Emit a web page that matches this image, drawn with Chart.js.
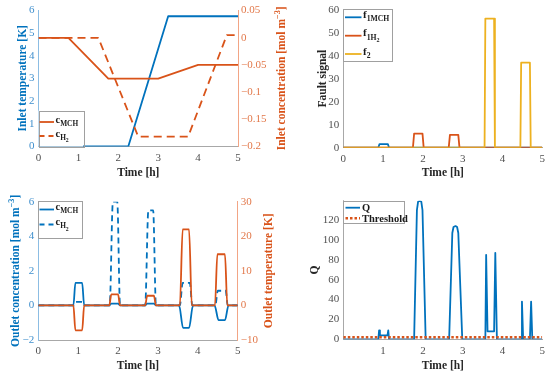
<!DOCTYPE html>
<html><head><meta charset="utf-8">
<script src="https://cdn.jsdelivr.net/npm/chart.js@4"></script>
<style>
html,body{margin:0;padding:0;background:#fff;}
body{width:550px;height:375px;position:relative;overflow:hidden;}
canvas{position:absolute;}
</style></head><body>
<canvas id="c1" width="295" height="185" style="left:0;top:0"></canvas>
<canvas id="c2" width="255" height="185" style="left:295px;top:0"></canvas>
<canvas id="c3" width="295" height="190" style="left:0;top:185px"></canvas>
<canvas id="c4" width="255" height="190" style="left:295px;top:185px"></canvas>
<script>
// ---------------- data ----------------
const timeTicks = [0, 1, 2, 3, 4, 5];
const timeTicksQ = [1, 2, 3, 4, 5];

// Panel 1: inlet disturbances
const tInletTemp = [0, 2.25, 3.25, 5];
const inletTemp = [0, 0, 5.75, 5.75];
const tInletMCH = [0, 0.75, 1.75, 3.0, 4.0, 5];
const inletMCH = [0, 0, -0.075, -0.075, -0.05, -0.05];
const tInletH2 = [0, 1.5, 2.5, 3.75, 4.72, 5];
const inletH2 = [0, 0, -0.182, -0.182, 0.005, 0.005];
const inletTempTicks = [0, 1, 2, 3, 4, 5, 6];
const inletConcTicks = [-0.2, -0.15, -0.1, -0.05, 0, 0.05];

// Panel 2: fault signals
const tF1MCH = [0, 0.88, 0.91, 1.12, 1.15, 5];
const f1MCH = [0, 0, 1.6, 1.6, 0, 0];
const tF1H2 = [0, 1.75, 1.78, 1.99, 2.02, 2.65, 2.68, 2.89, 2.92, 5];
const f1H2 = [0, 0, 6.2, 6.2, 0, 0, 5.6, 5.6, 0, 0];
const tF2 = [0, 3.55, 3.57, 3.79, 3.81, 4.45, 4.47, 4.69, 4.71, 5];
const f2 = [0, 0, 56.5, 56.5, 0, 0, 37.2, 37.2, 0, 0];
const faultTicks = [0, 10, 20, 30, 40, 50, 60];

// Panel 3: outlet responses
const tOutMCH = [0, 0.88, 0.93, 1.10, 1.15, 1.78, 1.83, 2.00, 2.05, 2.68, 2.73, 2.90, 2.95, 3.53, 3.63, 3.78, 3.88, 4.42, 4.52, 4.68, 4.77, 5];
const outMCH = [0, 0, 1.3, 1.3, 0, 0, 0.1, 0.1, 0, 0, 0.1, 0.1, 0, 0, -1.3, -1.3, 0, 0, -0.85, -0.85, 0, 0];
const tOutH2 = [0, 0.9, 0.94, 1.1, 1.14, 1.79, 1.87, 1.98, 2.05, 2.68, 2.76, 2.88, 2.95, 3.55, 3.62, 3.80, 3.86, 4.44, 4.50, 4.70, 4.75, 5];
const outH2 = [0, 0, 0.2, 0.2, 0, 0, 6.0, 6.0, 0, 0, 5.5, 5.5, 0, 0, 1.3, 1.3, 0, 0, 0.85, 0.85, 0, 0];
const tOutTemp = [0, 0.88, 0.93, 1.10, 1.15, 1.78, 1.83, 2.00, 2.05, 2.68, 2.73, 2.90, 2.95, 3.55, 3.62, 3.78, 3.85, 4.43, 4.49, 4.68, 4.74, 5];
const outTemp = [0, 0, -7.2, -7.2, 0, 0, 3.2, 3.2, 0, 0, 2.8, 2.8, 0, 0, 22, 22, 0, 0, 14.8, 14.8, 0, 0];
const outConcTicks = [-2, 0, 2, 4, 6];
const outTempTicks = [-10, 0, 10, 20, 30];

// Panel 4: Q statistic
const tQ = [0, 0.88, 0.90, 0.92, 1.11, 1.13, 1.15, 1.78, 1.85, 1.88, 1.92, 1.96, 1.99, 2.07, 2.66, 2.74, 2.77, 2.82, 2.86, 2.89, 2.99, 3.57, 3.59, 3.625, 3.79, 3.82, 3.86, 4.47, 4.49, 4.52, 4.69, 4.72, 4.75, 5];
const Q = [0, 0, 9, 4, 4, 9, 0, 0, 130, 138.5, 139.5, 138.5, 130, 0, 0, 107, 113, 114, 113, 107, 0, 0, 85, 8, 8, 87, 0, 0, 38, 0, 0, 38, 0, 0];
const tThreshold = [0, 5];
const threshold = [2, 2];
const qTicks = [0, 20, 40, 60, 80, 100, 120];

// ---------------- helpers ----------------
const FAM = "'Liberation Serif', 'DejaVu Serif', serif";
const BLUE = '#0072BD', ORANGE = '#D95319', YELLOW = '#EDB120';
const zip = (t, v) => t.map((x, i) => ({x: x, y: v[i]}));
const fmt = v => (v < 0 ? '\u2212' + String(-v) : String(v));

function axis(o) {
  return {
    type: 'linear', position: o.pos, min: o.min, max: o.max,
    grid: {display: false, drawTicks: false},
    border: {display: true, color: o.border, width: 1},
    ticks: {color: o.tcolor, font: {family: FAM, size: 11}, padding: o.pad, callback: v => fmt(v), autoSkip: false, maxRotation: 0},
    afterBuildTicks: s => { s.ticks = o.ticks.map(v => ({value: v})); },
    afterFit: s => { if (o.pos === 'bottom') s.height = o.size; else s.width = o.size; }
  };
}

function fontFor(p, size) {
  const f = p.s === 1 ? 0.7 : p.s === 2 ? 0.55 : p.s === -1 ? 0.72 : 1;
  return 'bold ' + (size * f).toFixed(2) + 'px ' + FAM;
}
function offFor(p, size) {
  return p.s === 1 ? size * 0.33 : p.s === 2 ? size * 0.55 : p.s === -1 ? -size * 0.4 : 0;
}
function richWidth(ctx, parts, size) {
  let w = 0;
  for (const p of parts) { ctx.font = fontFor(p, size); w += ctx.measureText(p.t).width; }
  return w;
}
function drawRich(ctx, x, y, parts, size, color) {
  ctx.fillStyle = color; ctx.textBaseline = 'alphabetic'; ctx.textAlign = 'left';
  let cx = x;
  for (const p of parts) {
    ctx.font = fontFor(p, size);
    ctx.fillText(p.t, cx, y + offFor(p, size));
    cx += ctx.measureText(p.t).width;
  }
}

const DECOR = {};
const decorPlugin = {
  id: 'decor',
  afterDraw(chart) {
    const d = DECOR[chart.canvas.id];
    if (!d) return;
    const ctx = chart.ctx;
    ctx.save();
    for (const t of d.titles) {
      const w = richWidth(ctx, t.parts, t.size);
      ctx.save();
      ctx.translate(t.x, t.y);
      ctx.rotate(t.rot || 0);
      drawRich(ctx, -w / 2, t.size * 0.35, t.parts, t.size, t.color);
      ctx.restore();
    }
    const L = d.legend;
    if (L) {
      ctx.fillStyle = '#fff';
      ctx.fillRect(L.x0, L.y0, L.x1 - L.x0, L.y1 - L.y0);
      ctx.strokeStyle = '#a0a0a0'; ctx.lineWidth = 1;
      ctx.strokeRect(Math.round(L.x0) + 0.5, Math.round(L.y0) + 0.5, Math.round(L.x1 - L.x0), Math.round(L.y1 - L.y0));
      for (const r of L.rows) {
        ctx.beginPath();
        ctx.strokeStyle = r.color; ctx.lineWidth = r.lw || 1.8;
        ctx.setLineDash(r.dash || []);
        ctx.moveTo(L.lx0, r.y); ctx.lineTo(L.lx1, r.y); ctx.stroke();
        ctx.setLineDash([]);
        drawRich(ctx, L.tx, r.y + L.base, r.parts, L.size, '#1a1a1a');
      }
    }
    ctx.restore();
  }
};

function makeChart(id, datasets, scales, pad) {
  return new Chart(document.getElementById(id), {
    type: 'line',
    data: {datasets: datasets},
    options: {
      responsive: false, animation: false, devicePixelRatio: 1,
      layout: {padding: pad},
      plugins: {legend: {display: false}, tooltip: {enabled: false}},
      elements: {point: {radius: 0}, line: {borderJoinStyle: 'round'}},
      scales: scales
    },
    plugins: [decorPlugin]
  });
}
function ds(t, v, color, opts) {
  return Object.assign({data: zip(t, v), borderColor: color, borderWidth: 1.8, pointRadius: 0, fill: false, tension: 0}, opts || {});
}

const LBLUE_AX = '#8cbde3', LOR_AX = '#f2a585', GR_AX = '#a8a8a8';
const TBLUE = '#3f8fcd', TOR = '#e2784a', TGR = '#505050';

// ---------------- Panel 1 ----------------
DECOR.c1 = {
  titles: [
    {x: 22, y: 78.3, rot: -Math.PI / 2, size: 11.5, color: BLUE, parts: [{t: 'Inlet temperature [K]'}]},
    {x: 281, y: 78.3, rot: -Math.PI / 2, size: 11.5, color: ORANGE, parts: [{t: 'Inlet concentration [mol m'}, {t: '\u22123', s: -1}, {t: ']'}]},
    {x: 138.3, y: 172, size: 11.5, color: '#262626', parts: [{t: 'Time [h]'}]}
  ],
  legend: {x0: 38.5, y0: 110.5, x1: 83, y1: 146.5, lx0: 39.5, lx1: 54, tx: 55.5, size: 10.5, base: 0.5,
    rows: [
      {y: 122, color: ORANGE, parts: [{t: 'c'}, {t: 'MCH', s: 1}]},
      {y: 136, color: ORANGE, dash: [5, 4], parts: [{t: 'c'}, {t: 'H', s: 1}, {t: '2', s: 2}]}
    ]}
};
makeChart('c1', [
  ds(tInletMCH, inletMCH, ORANGE, {yAxisID: 'y1', order: 0}),
  ds(tInletH2, inletH2, ORANGE, {yAxisID: 'y1', order: 1, borderDash: [8, 5]}),
  ds(tInletTemp, inletTemp, BLUE, {yAxisID: 'y', order: 2})
], {
  x: axis({pos: 'bottom', min: 0, max: 5, ticks: timeTicks, border: GR_AX, tcolor: TGR, pad: 5, size: 38.5}),
  y: axis({pos: 'left', min: 0, max: 6, ticks: inletTempTicks, border: LBLUE_AX, tcolor: TBLUE, pad: 4, size: 38.5}),
  y1: axis({pos: 'right', min: -0.2, max: 0.05, ticks: inletConcTicks, border: LOR_AX, tcolor: TOR, pad: 3, size: 57})
}, {top: 10, left: 0, right: 0, bottom: 0});

// ---------------- Panel 2 ----------------
DECOR.c2 = {
  titles: [
    {x: 26.7, y: 78.6, rot: -Math.PI / 2, size: 11.5, color: '#262626', parts: [{t: 'Fault signal'}]},
    {x: 147.8, y: 172, size: 11.5, color: '#262626', parts: [{t: 'Time [h]'}]}
  ],
  legend: {x0: 48.3, y0: 9, x1: 97, y1: 61, lx0: 50, lx1: 66.5, tx: 68, size: 11, base: 0.5,
    rows: [
      {y: 17.3, color: BLUE, parts: [{t: 'f'}, {t: '1MCH', s: 1}]},
      {y: 35.7, color: ORANGE, parts: [{t: 'f'}, {t: '1H', s: 1}, {t: '2', s: 2}]},
      {y: 54, color: YELLOW, parts: [{t: 'f'}, {t: '2', s: 1}]}
    ]}
};
makeChart('c2', [
  ds(tF2, f2, YELLOW, {order: 0}),
  ds(tF1H2, f1H2, ORANGE, {order: 1}),
  ds(tF1MCH, f1MCH, BLUE, {order: 2})
], {
  x: axis({pos: 'bottom', min: 0, max: 5, ticks: timeTicks, border: GR_AX, tcolor: TGR, pad: 5, size: 37.3}),
  y: axis({pos: 'left', min: 0, max: 60, ticks: faultTicks, border: GR_AX, tcolor: TGR, pad: 4, size: 48.3})
}, {top: 9.5, left: 0, right: 7.7, bottom: 0});

// ---------------- Panel 3 ----------------
DECOR.c3 = {
  titles: [
    {x: 14.5, y: 85.8, rot: -Math.PI / 2, size: 11.5, color: BLUE, parts: [{t: 'Outlet concentration [mol m'}, {t: '\u22123', s: -1}, {t: ']'}]},
    {x: 268, y: 85.8, rot: -Math.PI / 2, size: 11.5, color: ORANGE, parts: [{t: 'Outlet temperature [K]'}]},
    {x: 138, y: 180, size: 11.5, color: '#262626', parts: [{t: 'Time [h]'}]}
  ],
  legend: {x0: 38.3, y0: 16, x1: 82.3, y1: 53.3, lx0: 39.5, lx1: 54, tx: 55.5, size: 10.5, base: 0.5,
    rows: [
      {y: 24.5, color: BLUE, parts: [{t: 'c'}, {t: 'MCH', s: 1}]},
      {y: 39.5, color: BLUE, dash: [5, 4], parts: [{t: 'c'}, {t: 'H', s: 1}, {t: '2', s: 2}]}
    ]}
};
makeChart('c3', [
  ds(tOutTemp, outTemp, ORANGE, {yAxisID: 'y1', order: 0, cubicInterpolationMode: 'monotone'}),
  ds(tOutMCH, outMCH, BLUE, {yAxisID: 'y', order: 1, cubicInterpolationMode: 'monotone'}),
  ds(tOutH2, outH2, BLUE, {yAxisID: 'y', order: 2, borderDash: [6, 4], cubicInterpolationMode: 'monotone'})
], {
  x: axis({pos: 'bottom', min: 0, max: 5, ticks: timeTicks, border: GR_AX, tcolor: TGR, pad: 5, size: 35}),
  y: axis({pos: 'left', min: -2, max: 6, ticks: outConcTicks, border: LBLUE_AX, tcolor: TBLUE, pad: 4, size: 38.3}),
  y1: axis({pos: 'right', min: -10, max: 30, ticks: outTempTicks, border: LOR_AX, tcolor: TOR, pad: 3, size: 57.3})
}, {top: 16.7, left: 0, right: 0, bottom: 0});

// ---------------- Panel 4 ----------------
DECOR.c4 = {
  titles: [
    {x: 19.3, y: 85, rot: -Math.PI / 2, size: 11.5, color: '#262626', parts: [{t: 'Q'}]},
    {x: 147.8, y: 180, size: 11.5, color: '#262626', parts: [{t: 'Time [h]'}]}
  ],
  legend: {x0: 48.3, y0: 15.7, x1: 109.3, y1: 37.7, lx0: 50.5, lx1: 65, tx: 67, size: 10.5, base: 3.6,
    rows: [
      {y: 22.7, color: BLUE, parts: [{t: 'Q'}]},
      {y: 33.3, color: ORANGE, dash: [2.5, 2], lw: 2.5, parts: [{t: 'Threshold'}]}
    ]}
};
makeChart('c4', [
  ds(tThreshold, threshold, ORANGE, {order: 0, borderDash: [2.5, 2], borderWidth: 2.5}),
  ds(tQ, Q, BLUE, {order: 1})
], {
  x: axis({pos: 'bottom', min: 0, max: 5, ticks: timeTicksQ, border: GR_AX, tcolor: TGR, pad: 5, size: 35.7}),
  y: axis({pos: 'left', min: 0, max: 139.5, ticks: qTicks, border: GR_AX, tcolor: TGR, pad: 4, size: 48.3})
}, {top: 15.7, left: 0, right: 7.7, bottom: 0});
</script>
</body></html>
